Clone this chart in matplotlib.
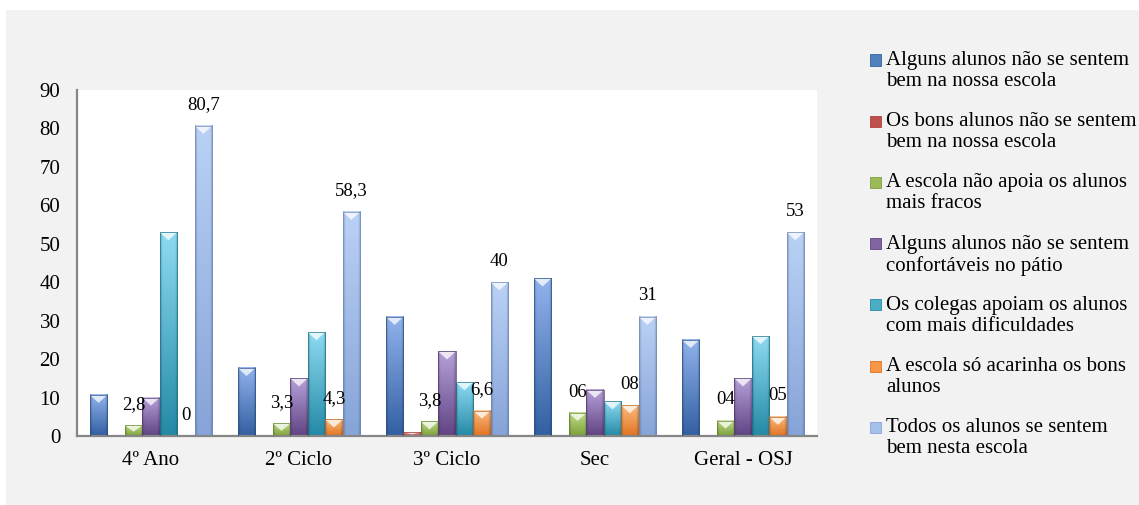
import numpy as np
import matplotlib
matplotlib.use("Agg")
import matplotlib.pyplot as plt
from matplotlib.patches import Rectangle, Polygon
from matplotlib.colors import to_rgb

plt.rcParams["font.family"] = ["Liberation Serif", "DejaVu Serif"]

# Grupos de alunos e respostas (%)
grupos = ["4º Ano", "2º Ciclo", "3º Ciclo", "Sec", "Geral - OSJ"]

series = [
    "Alguns alunos não se sentem\nbem na nossa escola",
    "Os bons alunos não se sentem\nbem na nossa escola",
    "A escola não apoia os alunos\nmais fracos",
    "Alguns alunos não se sentem\nconfortáveis no pátio",
    "Os colegas apoiam os alunos\ncom mais dificuldades",
    "A escola só acarinha os bons\nalunos",
    "Todos os alunos se sentem\nbem nesta escola",
]

nao_bem = [10.7, 17.7, 31, 41, 25]
bons_nao_bem = [0, 0, 1, 0, 0]
nao_apoia = [2.8, 3.3, 3.8, 6, 4]
patio = [10, 15, 22, 12, 15]
colegas = [53, 27, 14, 9, 26]
acarinha = [0, 4.3, 6.6, 8, 5]
todos_bem = [80.7, 58.3, 40, 31, 53]

valores = [nao_bem, bons_nao_bem, nao_apoia, patio, colegas, acarinha, todos_bem]

# rótulos escritos no gráfico (só três séries têm rótulo)
rotulos = {
    2: ["2,8", "3,3", "3,8", "06", "04"],
    5: ["0", "4,3", "6,6", "08", "05"],
    6: ["80,7", "58,3", "40", "31", "53"],
}

# (base, topo claro, fundo escuro)
cores = [
    ("#4f81bd", "#90b2ec", "#3360a2"),
    ("#c0504d", "#f0a0a0", "#b04040"),
    ("#9bbb59", "#c3dd8a", "#7ca03a"),
    ("#8064a2", "#b5a0d9", "#614484"),
    ("#4bacc6", "#8cdaf1", "#258aa6"),
    ("#f79646", "#fbbb7f", "#e27422"),
    ("#a5c0ea", "#bad1f6", "#86a4d8"),
]

W, H = 1139, 505
fig = plt.figure(figsize=(W / 100, H / 100), dpi=100)
fig.patch.set_facecolor("white")
fig.patches.append(Rectangle((6 / W, 0), 1, 1 - 10 / H, transform=fig.transFigure,
                             facecolor="#f2f2f2", edgecolor="none", zorder=-10))

ax = fig.add_axes([77 / W, 1 - 436 / H, (817 - 77) / W, (436 - 90) / H])
ax.set_facecolor("white")

x = np.arange(len(grupos))
n = len(series)
larg = 0.118


def barra_gradiente(ax, x0, x1, h, claro, escuro):
    """Preenche uma barra com degradê vertical e bordas laterais mais escuras."""
    claro = np.array(to_rgb(claro))
    escuro = np.array(to_rgb(escuro))
    t = np.linspace(0, 1, 40)[:, None, None]
    img = escuro + (claro - escuro) * t
    img = np.repeat(img, 16, axis=1)
    borda = np.ones(16)
    borda[0] = borda[-1] = 0.8
    borda[1] = borda[-2] = 0.9
    img = img * borda[None, :, None]
    ax.imshow(np.clip(img, 0, 1), extent=[x0, x1, 0, h], origin="lower",
              aspect="auto", interpolation="bilinear", zorder=2)
    # chanfro no topo
    bh = min(2.1, h * 0.6)
    ax.add_patch(Polygon([(x0, h), (x1, h), ((x0 + x1) / 2, h - bh)],
                         closed=True, facecolor="white", alpha=0.75,
                         edgecolor="none", zorder=3))
    ax.add_patch(Rectangle((x0, 0), x1 - x0, h, facecolor="none",
                           edgecolor=escuro * 0.85, linewidth=0.5, zorder=3))


for i, vals in enumerate(valores):
    pos = x + (i - (n - 1) / 2) * larg
    barras = ax.bar(pos, vals, width=larg, color="none", zorder=1)
    for b, v in zip(barras, vals):
        if v <= 0:
            continue
        barra_gradiente(ax, b.get_x(), b.get_x() + b.get_width(), v,
                        cores[i][1], cores[i][2])
    if i in rotulos:
        for p, v, r in zip(pos, vals, rotulos[i]):
            ax.annotate(r, (p, v), xytext=(0, 15), textcoords="offset points",
                        ha="center", va="center", fontsize=13.5, zorder=5)

ax.set_xlim(-0.5, len(grupos) - 0.5)
ax.set_ylim(0, 90)
ax.set_yticks(range(0, 91, 10))
ax.set_xticks(x)
ax.set_xticklabels(grupos)
ax.tick_params(axis="both", length=0, labelsize=15)
ax.tick_params(axis="y", pad=12)
ax.tick_params(axis="x", pad=11)
for s in ["top", "right"]:
    ax.spines[s].set_visible(False)
for s in ["left", "bottom"]:
    ax.spines[s].set_color("#868686")
    ax.spines[s].set_linewidth(1.6)

# legenda à direita
for i, nome in enumerate(series):
    yc = 60 + 61.2 * i
    fig.patches.append(Rectangle((870 / W, 1 - (yc + 5.5) / H), 11 / W, 11 / H,
                                 transform=fig.transFigure, facecolor=cores[i][0],
                                 edgecolor=cores[i][2], linewidth=0.6))
    fig.text(886 / W, 1 - (yc - 9) / H, nome, fontsize=15, va="top",
             ha="left", linespacing=1.15)

fig.savefig("out.png", dpi=100)
